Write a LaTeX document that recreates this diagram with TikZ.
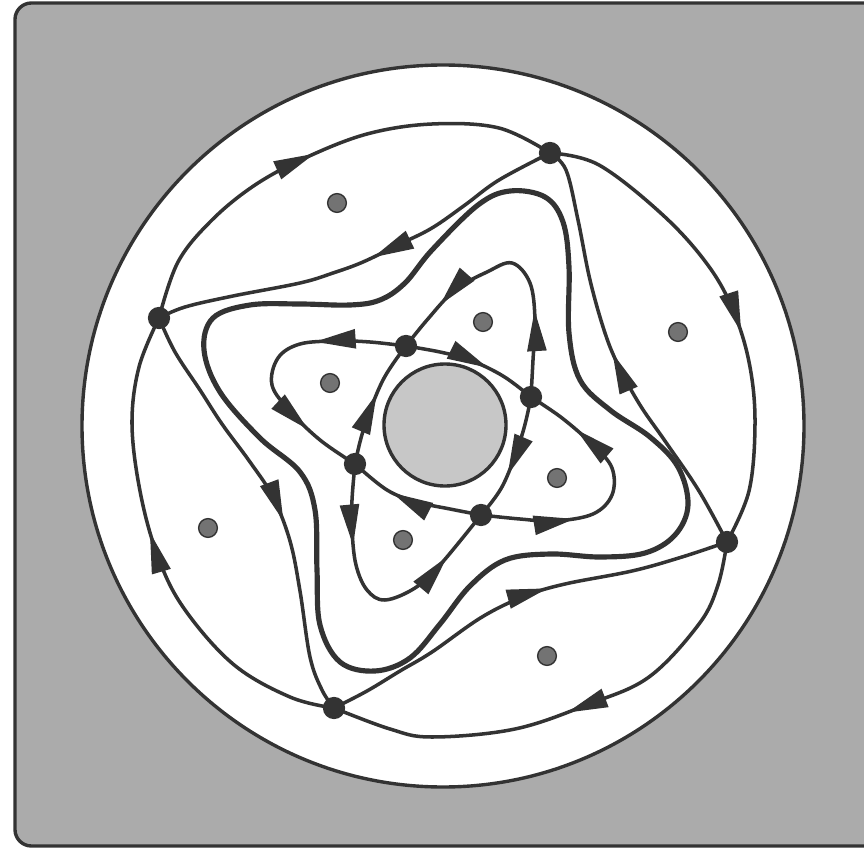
\documentclass[tikz,border=0pt]{standalone}
\usepackage{tikz}
\usetikzlibrary{arrows.meta,decorations.markings}
\tikzset{
  flowline/.style={line width=3pt, color=black!80},
  cycleline/.style={line width=4.4pt, color=black!80},
  rim/.style={line width=2.9pt, draw=black!80},
  saddle/.style={circle, fill=black!80, inner sep=0pt, minimum size=19pt},
  centre/.style={circle, draw=black!80, line width=1.2pt, fill=black!55, inner sep=0pt, minimum size=16pt},
  flowmark/.style={postaction={decorate, decoration={markings,
      mark=at position #1 with {\arrow{Triangle[length=35pt,width=16pt]}}}}}
}
\begin{document}
\begin{tikzpicture}[x=0.03cm, y=-0.03cm]
  \useasboundingbox (0,0) rectangle (864,848);
  % backdrop, disk and hole
  \draw[rim, fill=black!33, rounded corners=14pt] (15,3) rectangle (890,846);
  \draw[rim, fill=white] (443,426) circle[radius=361];
  \draw[rim, fill=black!22] (445,425) circle[radius=61];

  % outer saddles
  \coordinate (A) at (550,153);
  \coordinate (B) at (159,318);
  \coordinate (C) at (334,708);
  \coordinate (D) at (727,542);
  % inner saddles
  \coordinate (P1) at (406,346);
  \coordinate (P2) at (531,397);
  \coordinate (P3) at (481,515);
  \coordinate (P4) at (355,464);

  % outer loop
  \draw[flowline, flowmark=0.49] plot[smooth, tension=0.6] coordinates
    {(B) (178,262) (212,220) (255,185) (305,158) (367,134) (432,124) (499,128) (A)};
  \draw[flowline, flowmark=0.56] plot[smooth, tension=0.6] coordinates
    {(A) (599,165) (665,217) (710,268) (735,315) (750,367) (755,424) (749,491) (D)};
  \draw[flowline, flowmark=0.51] plot[smooth, tension=0.6] coordinates
    {(D) (718,585) (699,624) (649,677) (589,704) (515,729) (432,737) (390,729) (C)};
  \draw[flowline, flowmark=0.55] plot[smooth, tension=0.6] coordinates
    {(C) (290,697) (233,664) (183,607) (157,554) (140,491) (132,424) (139,367) (B)};

  % inner separatrices between outer saddles
  \draw[flowline, flowmark=0.48] plot[smooth, tension=0.6] coordinates
    {(A) (499,180) (465,205) (432,228) (400,244) (363,262) (333,273) (300,283) (233,296) (185,307) (B)};
  \draw[flowline, flowmark=0.55] plot[smooth, tension=0.6] coordinates
    {(B) (175,352) (200,390) (222,424) (250,462) (273,497) (290,541) (300,591) (310,657) (322,690) (C)};
  \draw[flowline, flowmark=0.57] plot[smooth, tension=0.6] coordinates
    {(C) (367,691) (400,671) (432,652) (482,617) (525,596) (565,584) (632,571) (682,557) (D)};
  \draw[flowline, flowmark=0.51] plot[smooth, tension=0.6] coordinates
    {(D) (699,491) (665,441) (640,405) (619,367) (605,333) (590,280) (578,220) (566,170) (A)};

  % closed orbit
  \draw[cycleline] plot[smooth cycle, tension=0.6] coordinates
    {(432,250) (405,283) (380,300) (350,305) (300,304) (250,305) (213,318) (204,350)
     (220,392) (260,438) (300,472) (315,510) (317,570) (320,625) (340,662) (375,671)
     (410,658) (440,624) (470,586) (505,560) (550,554) (600,557) (645,553) (675,535)
     (688,505) (678,467) (650,437) (610,410) (580,380) (569,333) (569,267) (563,222)
     (545,197) (510,191) (478,205)};

  % inner saddle connections
  \draw[flowline, flowmark=0.62] plot[smooth, tension=0.6] coordinates
    {(P1) (440,352) (470,360) (503,376) (P2)};
  \draw[flowline, flowmark=0.34, flowmark=0.80] plot[smooth, tension=0.6] coordinates
    {(P3) (520,519) (555,521) (593,514) (612,495) (612,468) (593,445) (562,418) (P2)};
  \draw[flowline, flowmark=0.66] plot[smooth, tension=0.6] coordinates
    {(P3) (450,509) (417,502) (387,490) (P4)};
  \draw[flowline, flowmark=0.33, flowmark=0.79] plot[smooth, tension=0.6] coordinates
    {(P1) (370,342) (337,341) (300,344) (278,358) (272,385) (290,411) (320,440) (P4)};
  \draw[flowline, flowmark=0.31, flowmark=0.81] plot[smooth, tension=0.6] coordinates
    {(P2) (533,360) (535,320) (530,283) (512,263) (487,272) (455,290) (427,320) (P1)};
  \draw[flowline, flowmark=0.57] plot[smooth, tension=0.6] coordinates
    {(P4) (364,428) (383,380) (P1)};
  \draw[flowline, flowmark=0.29, flowmark=0.81] plot[smooth, tension=0.6] coordinates
    {(P4) (352,500) (352,530) (356,565) (367,590) (385,600) (415,588) (440,565) (P3)};
  \draw[flowline, flowmark=0.63] plot[smooth, tension=0.6] coordinates
    {(P2) (522,435) (503,485) (P3)};

  % fixed points
  \node[saddle] (sA) at (A) {};
  \node[saddle] (sB) at (B) {};
  \node[saddle] (sC) at (C) {};
  \node[saddle] (sD) at (D) {};
  \node[saddle] (sP1) at (P1) {};
  \node[saddle] (sP2) at (P2) {};
  \node[saddle] (sP3) at (P3) {};
  \node[saddle] (sP4) at (P4) {};
  \node[centre] (c1) at (337,203) {};
  \node[centre] (c2) at (483,322) {};
  \node[centre] (c3) at (678,332) {};
  \node[centre] (c4) at (330,383) {};
  \node[centre] (c5) at (557,478) {};
  \node[centre] (c6) at (208,528) {};
  \node[centre] (c7) at (403,540) {};
  \node[centre] (c8) at (547,656) {};
\end{tikzpicture}
\end{document}
